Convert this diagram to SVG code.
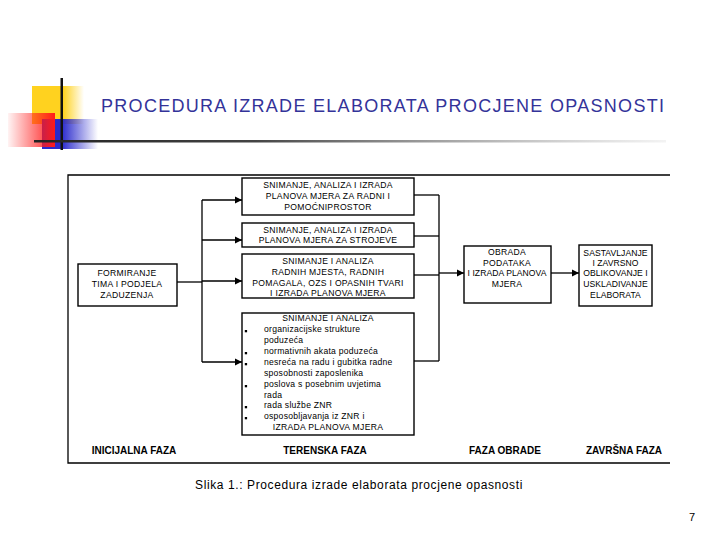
<svg xmlns="http://www.w3.org/2000/svg" width="720" height="540" viewBox="0 0 720 540">
<defs>
<style>
.box{fill:#fff;stroke:#000;stroke-width:1.4}
.ln{fill:none;stroke:#000;stroke-width:1.3}
.t{font-family:"Liberation Sans",Arial,sans-serif;font-size:8.6px;letter-spacing:0.3px;fill:#000;text-anchor:middle}
.n{letter-spacing:0.05px}
.b{font-family:"Liberation Sans",Arial,sans-serif;font-size:8.6px;letter-spacing:0.25px;fill:#000}
.ph{font-family:"Liberation Sans",Arial,sans-serif;font-size:10px;font-weight:bold;fill:#000;text-anchor:middle}
</style>
<marker id="ar" markerWidth="8" markerHeight="8" refX="7" refY="4" orient="auto" markerUnits="userSpaceOnUse">
<path d="M0,0.5 L7,4 L0,7.5 Z" fill="#000"/>
</marker>
<linearGradient id="gy" x1="0" x2="1" y1="0" y2="0">
<stop offset="0" stop-color="#FFD21F"/><stop offset="0.6" stop-color="#FFD21F"/><stop offset="1" stop-color="#FFD21F" stop-opacity="0"/>
</linearGradient>
<linearGradient id="gr" x1="0" x2="1" y1="0" y2="0">
<stop offset="0" stop-color="#FF2020" stop-opacity="0.05"/><stop offset="1" stop-color="#FF1A1A"/>
</linearGradient>
<linearGradient id="gb" x1="0" x2="1" y1="0" y2="0">
<stop offset="0" stop-color="#2A2ACC"/><stop offset="0.35" stop-color="#2A2ACC"/><stop offset="1" stop-color="#2A2ACC" stop-opacity="0"/>
</linearGradient>
<linearGradient id="gl" x1="0" x2="1" y1="0" y2="0">
<stop offset="0" stop-color="#222"/><stop offset="0.35" stop-color="#444"/><stop offset="1" stop-color="#888" stop-opacity="0.1"/>
</linearGradient>
</defs>
<rect width="720" height="540" fill="#fff"/>

<g id="decoration">
<rect x="32" y="86" width="52" height="38" fill="url(#gy)"/>
<rect x="42" y="119" width="56" height="30" fill="url(#gb)"/>
<rect x="8" y="113" width="47" height="34" fill="url(#gr)"/>
<rect x="60.5" y="78" width="2.5" height="72" fill="#111"/>
<rect x="34" y="140" width="632" height="2.5" fill="url(#gl)"/>
</g>
<text id="title" x="101" y="112" font-family="'Liberation Sans',Arial,sans-serif" font-size="18" fill="#333399" textLength="563" lengthAdjust="spacing">PROCEDURA IZRADE ELABORATA PROCJENE OPASNOSTI</text>

<g id="frame">
<polyline class="ln" points="670,175 68,175 68,463 670,463"/>
</g>

<g id="connectors">
<polyline class="ln" points="177,282 202,282"/>
<polyline class="ln" points="202,200 202,362"/>
<line class="ln" x1="202" y1="200" x2="242" y2="200" marker-end="url(#ar)"/>
<line class="ln" x1="202" y1="240" x2="242" y2="240" marker-end="url(#ar)"/>
<line class="ln" x1="202" y1="281" x2="242" y2="281" marker-end="url(#ar)"/>
<line class="ln" x1="202" y1="362" x2="242" y2="362" marker-end="url(#ar)"/>
<line class="ln" x1="414" y1="195" x2="439" y2="195"/>
<line class="ln" x1="414" y1="236" x2="439" y2="236"/>
<line class="ln" x1="414" y1="275" x2="439" y2="275"/>
<line class="ln" x1="414" y1="361" x2="439" y2="361"/>
<line class="ln" x1="439" y1="195" x2="439" y2="361"/>
<line class="ln" x1="439" y1="273" x2="464" y2="273" marker-end="url(#ar)"/>
<line class="ln" x1="551" y1="273" x2="579" y2="273" marker-end="url(#ar)"/>
</g>

<g id="formiranje">
<rect class="box" x="78" y="264" width="99" height="42"/>
<text class="t" x="127" y="276">FORMIRANJE</text>
<text class="t" x="127" y="287">TIMA I PODJELA</text>
<text class="t" x="127" y="298">ZADUZENJA</text>
</g>

<g id="prostor">
<rect class="box" x="242" y="178" width="172" height="37"/>
<text class="t" x="328" y="188">SNIMANJE, ANALIZA I IZRADA</text>
<text class="t" x="328" y="199">PLANOVA MJERA ZA RADNI I</text>
<text class="t" x="328" y="210">POMOĆNIPROSTOR</text>
</g>

<g id="strojevi">
<rect class="box" x="242" y="223" width="172" height="24"/>
<text class="t" x="328" y="233">SNIMANJE, ANALIZA I IZRADA</text>
<text class="t" x="328" y="243">PLANOVA MJERA ZA STROJEVE</text>
</g>

<g id="radna-mjesta">
<rect class="box" x="242" y="254" width="172" height="44"/>
<text class="t" x="328" y="264">SNIMANJE I ANALIZA</text>
<text class="t" x="328" y="275">RADNIH MJESTA, RADNIH</text>
<text class="t" x="328" y="286">POMAGALA, OZS I OPASNIH TVARI</text>
<text class="t" x="328" y="296">I IZRADA PLANOVA MJERA</text>
</g>

<g id="organizacija">
<rect class="box" x="242" y="313" width="172" height="122"/>
<text class="t" x="328" y="321">SNIMANJE I ANALIZA</text>
<g fill="#000">
<rect x="244.8" y="330" width="2.3" height="2.3"/>
<rect x="244.8" y="352" width="2.3" height="2.3"/>
<rect x="244.8" y="363" width="2.3" height="2.3"/>
<rect x="244.8" y="385" width="2.3" height="2.3"/>
<rect x="244.8" y="406" width="2.3" height="2.3"/>
<rect x="244.8" y="417" width="2.3" height="2.3"/>
</g>
<text class="b" x="264" y="332">organizacijske strukture</text>
<text class="b" x="264" y="343">poduzeća</text>
<text class="b" x="264" y="354">normativnih akata poduzeća</text>
<text class="b" x="264" y="365">nesreća na radu i gubitka radne</text>
<text class="b" x="264" y="376">sposobnosti zaposlenika</text>
<text class="b" x="264" y="387">poslova s posebnim uvjetima</text>
<text class="b" x="264" y="398">rada</text>
<text class="b" x="264" y="408">rada službe ZNR</text>
<text class="b" x="264" y="419">osposobljavanja iz ZNR i</text>
<text class="t" x="328" y="430">IZRADA PLANOVA MJERA</text>
</g>

<g id="obrada">
<rect class="box" x="464" y="246" width="87" height="57"/>
<text class="t" x="507" y="255">OBRADA</text>
<text class="t" x="507" y="266">PODATAKA</text>
<text class="t n" x="507" y="276">I IZRADA PLANOVA</text>
<text class="t" x="507" y="287">MJERA</text>
</g>

<g id="sastavljanje">
<rect class="box" x="579" y="245" width="73" height="61"/>
<text class="t n" x="615.5" y="256">SASTAVLJANJE</text>
<text class="t n" x="615.5" y="266">I ZAVRSNO</text>
<text class="t n" x="615.5" y="276">OBLIKOVANJE I</text>
<text class="t n" x="615.5" y="287">USKLADIVANJE</text>
<text class="t n" x="615.5" y="298">ELABORATA</text>
</g>

<g id="phases">
<text class="ph" x="134" y="454">INICIJALNA FAZA</text>
<text class="ph" x="325" y="454">TERENSKA FAZA</text>
<text class="ph" x="505" y="454">FAZA OBRADE</text>
<text class="ph" x="624" y="454">ZAVRŠNA FAZA</text>
</g>

<text x="359" y="489" font-family="'Liberation Sans',Arial,sans-serif" font-size="12" letter-spacing="0.6" fill="#000" text-anchor="middle">Slika 1.: Procedura izrade elaborata procjene opasnosti</text>
<text x="692" y="521" font-family="'Liberation Sans',Arial,sans-serif" font-size="11" fill="#000" text-anchor="middle">7</text>
</svg>
